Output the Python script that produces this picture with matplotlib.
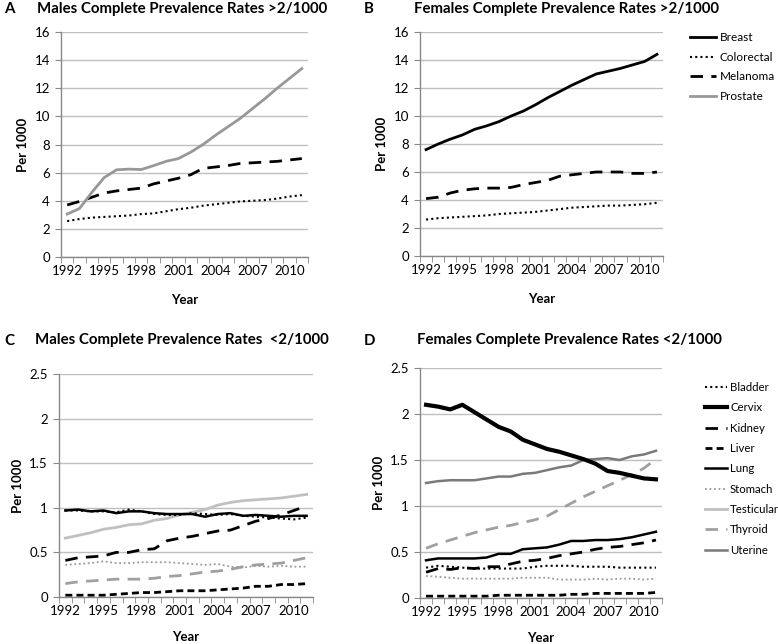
import matplotlib
matplotlib.use("Agg")
import matplotlib.pyplot as plt
from matplotlib.lines import Line2D
from matplotlib.ticker import MultipleLocator, FixedLocator, FuncFormatter

plt.rcParams['font.family'] = ['Lato', 'DejaVu Sans']

years = list(range(1992, 2012))
xtick_years = [1992, 1995, 1998, 2001, 2004, 2007, 2010]

# Panel A: males >2/1000
a_prostate = [3.05, 3.45, 4.6, 5.65, 6.2, 6.25, 6.22, 6.5, 6.8, 7.0, 7.45, 8.0, 8.65, 9.25, 9.85, 10.55, 11.25, 12.0, 12.7, 13.4]
a_melanoma = [3.7, 3.95, 4.25, 4.55, 4.7, 4.8, 4.9, 5.2, 5.4, 5.6, 5.85, 6.3, 6.4, 6.5, 6.65, 6.7, 6.75, 6.8, 6.9, 7.0]
a_colorectal = [2.55, 2.7, 2.8, 2.85, 2.9, 2.95, 3.05, 3.1, 3.25, 3.4, 3.5, 3.65, 3.75, 3.85, 3.95, 4.0, 4.05, 4.15, 4.3, 4.4]

# Panel B: females >2/1000
b_breast = [7.6, 8.0, 8.35, 8.65, 9.05, 9.3, 9.6, 10.0, 10.35, 10.8, 11.3, 11.75, 12.2, 12.6, 13.0, 13.2, 13.4, 13.65, 13.9, 14.4]
b_melanoma = [4.1, 4.2, 4.5, 4.7, 4.8, 4.85, 4.85, 4.9, 5.1, 5.25, 5.4, 5.7, 5.8, 5.9, 6.0, 6.0, 6.0, 5.9, 5.9, 6.0]
b_colorectal = [2.6, 2.7, 2.75, 2.8, 2.85, 2.9, 3.0, 3.05, 3.1, 3.15, 3.25, 3.35, 3.45, 3.5, 3.55, 3.6, 3.6, 3.65, 3.7, 3.8]

# Panel C: males <2/1000
c_lung = [0.97, 0.98, 0.96, 0.97, 0.94, 0.96, 0.96, 0.94, 0.93, 0.93, 0.93, 0.90, 0.93, 0.94, 0.91, 0.92, 0.91, 0.90, 0.91, 0.91]
c_bladder = [0.97, 0.97, 0.96, 0.96, 0.95, 0.98, 0.96, 0.93, 0.92, 0.92, 0.94, 0.93, 0.92, 0.93, 0.91, 0.90, 0.89, 0.88, 0.87, 0.89]
c_testicular = [0.66, 0.69, 0.72, 0.76, 0.78, 0.81, 0.82, 0.86, 0.88, 0.92, 0.95, 0.98, 1.03, 1.06, 1.08, 1.09, 1.10, 1.11, 1.13, 1.15]
c_kidney = [0.41, 0.44, 0.45, 0.46, 0.50, 0.50, 0.53, 0.54, 0.63, 0.66, 0.68, 0.71, 0.74, 0.75, 0.80, 0.85, 0.88, 0.92, 0.97, 1.02]
c_stomach = [0.36, 0.37, 0.38, 0.40, 0.38, 0.38, 0.39, 0.39, 0.39, 0.38, 0.37, 0.36, 0.37, 0.34, 0.33, 0.35, 0.34, 0.35, 0.34, 0.34]
c_thyroid = [0.15, 0.17, 0.18, 0.19, 0.20, 0.20, 0.20, 0.21, 0.23, 0.24, 0.26, 0.28, 0.29, 0.31, 0.34, 0.36, 0.37, 0.38, 0.41, 0.44]
c_liver = [0.02, 0.02, 0.02, 0.02, 0.03, 0.04, 0.05, 0.05, 0.06, 0.07, 0.07, 0.07, 0.08, 0.09, 0.10, 0.12, 0.12, 0.14, 0.14, 0.15]

# Panel D: females <2/1000
d_cervix = [2.1, 2.08, 2.05, 2.1, 2.02, 1.94, 1.86, 1.81, 1.72, 1.67, 1.62, 1.59, 1.55, 1.51, 1.46, 1.38, 1.36, 1.33, 1.30, 1.29]
d_uterine = [1.25, 1.27, 1.28, 1.28, 1.28, 1.30, 1.32, 1.32, 1.35, 1.36, 1.39, 1.42, 1.44, 1.50, 1.51, 1.52, 1.50, 1.54, 1.56, 1.60]
d_thyroid = [0.54, 0.59, 0.63, 0.67, 0.71, 0.74, 0.77, 0.79, 0.82, 0.85, 0.89, 0.96, 1.03, 1.10, 1.16, 1.22, 1.28, 1.34, 1.41, 1.51]
d_lung = [0.41, 0.43, 0.43, 0.43, 0.43, 0.44, 0.48, 0.48, 0.53, 0.54, 0.55, 0.58, 0.62, 0.62, 0.63, 0.63, 0.64, 0.66, 0.69, 0.72]
d_kidney = [0.28, 0.32, 0.31, 0.33, 0.32, 0.34, 0.34, 0.37, 0.40, 0.41, 0.43, 0.46, 0.48, 0.50, 0.53, 0.55, 0.56, 0.58, 0.60, 0.63]
d_bladder = [0.33, 0.35, 0.34, 0.33, 0.32, 0.32, 0.32, 0.32, 0.32, 0.34, 0.35, 0.35, 0.35, 0.34, 0.34, 0.34, 0.33, 0.33, 0.33, 0.33]
d_stomach = [0.24, 0.23, 0.22, 0.21, 0.21, 0.21, 0.21, 0.21, 0.22, 0.22, 0.22, 0.20, 0.20, 0.20, 0.21, 0.20, 0.21, 0.21, 0.20, 0.21]
d_liver = [0.02, 0.02, 0.02, 0.02, 0.02, 0.02, 0.03, 0.03, 0.03, 0.03, 0.03, 0.03, 0.04, 0.04, 0.05, 0.05, 0.05, 0.05, 0.05, 0.06]

# styles
S = {
    'Breast': dict(color='black', lw=2.0, ls='-'),
    'Colorectal': dict(color='black', lw=1.5, ls=(0, (1, 1.5))),
    'Melanoma': dict(color='black', lw=2.0, ls=(0, (4.5, 3))),
    'Prostate': dict(color='#989898', lw=2.0, ls='-'),
    'Bladder': dict(color='black', lw=1.5, ls=(0, (1, 1.5))),
    'Cervix': dict(color='black', lw=3.0, ls='-'),
    'Kidney': dict(color='black', lw=2.0, ls=(0, (4.5, 3))),
    'Liver': dict(color='black', lw=2.0, ls=(0, (2.5, 1.5))),
    'Lung': dict(color='black', lw=1.8, ls='-'),
    'Stomach': dict(color='#9a9a9a', lw=1.3, ls=(0, (1, 1.5))),
    'Testicular': dict(color='#c0c0c0', lw=2.0, ls='-'),
    'Thyroid': dict(color='#a0a0a0', lw=2.0, ls=(0, (4.5, 3))),
    'Uterine': dict(color='#7a7a7a', lw=1.8, ls='-'),
}

fig = plt.figure(figsize=(7.78, 6.44), dpi=100)
W, H = 778, 644

def mkax(l, r, t, b):
    return fig.add_axes([l / W, 1 - b / H, (r - l) / W, (b - t) / H])

def style(ax, ymax, ystep, xlabelpad):
    ax.set_xlim(1991.5, 2011.5)
    ax.set_ylim(0, ymax)
    ax.yaxis.set_major_locator(MultipleLocator(ystep))
    ax.yaxis.set_major_formatter(FuncFormatter(lambda v, p: '{:g}'.format(v)))
    ax.xaxis.set_major_locator(FixedLocator(xtick_years))
    ax.xaxis.set_minor_locator(FixedLocator([y - 0.5 for y in range(1992, 2013)]))
    ax.tick_params(axis='x', which='major', length=0, labelsize=9.5, pad=6)
    ax.tick_params(axis='x', which='minor', length=4, color='#888888', direction='out')
    ax.tick_params(axis='y', which='major', length=4, color='#888888', labelsize=9.5, pad=4)
    ax.grid(axis='y', color='#bfbfbf', lw=1.0)
    ax.set_axisbelow(True)
    for s in ['top', 'right']:
        ax.spines[s].set_visible(False)
    for s in ['left', 'bottom']:
        ax.spines[s].set_color('#888888')
        ax.spines[s].set_linewidth(1.0)
    ax.set_xlabel('Year', fontsize=9.5, fontweight='bold', labelpad=xlabelpad)
    ax.set_ylabel('Per 1000', fontsize=9.5, fontweight='bold', labelpad=4)

# Panel A
axA = mkax(61, 308, 32, 257)
style(axA, 16, 2, 12)
axA.plot(years, a_colorectal, **S['Colorectal'])
axA.plot(years, a_melanoma, **S['Melanoma'])
axA.plot(years, a_prostate, **S['Prostate'])

# Panel B
axB = mkax(420, 663, 32, 256)
style(axB, 16, 2, 12)
axB.plot(years, b_colorectal, **S['Colorectal'])
axB.plot(years, b_melanoma, **S['Melanoma'])
axB.plot(years, b_breast, **S['Breast'])
hB = [Line2D([], [], **S[k]) for k in ['Breast', 'Colorectal', 'Melanoma', 'Prostate']]
fig.legend(hB, ['Breast', 'Colorectal', 'Melanoma', 'Prostate'], loc='upper left',
           bbox_to_anchor=(690 / W, 1 - 32 / H), frameon=False, fontsize=8.5,
           handlelength=2.2, handletextpad=0.3, labelspacing=0.74,
           borderaxespad=0, borderpad=0)

# Panel C
axC = mkax(59, 313, 374, 597)
style(axC, 2.5, 0.5, 10)
axC.plot(years, c_liver, **S['Liver'])
axC.plot(years, c_thyroid, **S['Thyroid'])
axC.plot(years, c_stomach, **S['Stomach'])
axC.plot(years, c_kidney, **S['Kidney'])
axC.plot(years, c_testicular, **S['Testicular'])
axC.plot(years, c_bladder, **S['Bladder'])
axC.plot(years, c_lung, **S['Lung'])

# Panel D
axD = mkax(420, 662, 368, 598)
style(axD, 2.5, 0.5, 10)
axD.plot(years, d_liver, **S['Liver'])
axD.plot(years, d_stomach, **S['Stomach'])
axD.plot(years, d_bladder, **S['Bladder'])
axD.plot(years, d_kidney, **S['Kidney'])
axD.plot(years, d_lung, **S['Lung'])
axD.plot(years, d_thyroid, **S['Thyroid'])
axD.plot(years, d_uterine, **S['Uterine'])
axD.plot(years, d_cervix, **S['Cervix'])
namesD = ['Bladder', 'Cervix', 'Kidney', 'Liver', 'Lung', 'Stomach', 'Testicular', 'Thyroid', 'Uterine']
hD = [Line2D([], [], **S[k]) for k in namesD]
fig.legend(hD, namesD, loc='upper left',
           bbox_to_anchor=(705 / W, 1 - 382 / H), frameon=False, fontsize=8.2,
           handlelength=1.95, handletextpad=0.25, labelspacing=0.82,
           borderaxespad=0, borderpad=0)

# Titles and letters
tkw = dict(fontsize=10.8, fontweight='bold', va='center')
fig.text(182 / W, 1 - 9 / H, 'Males Complete Prevalence Rates >2/1000', ha='center', **tkw)
fig.text(567 / W, 1 - 9 / H, 'Females Complete Prevalence Rates >2/1000', ha='center', **tkw)
fig.text(182 / W, 1 - 340 / H, 'Males Complete Prevalence Rates  <2/1000', ha='center', **tkw)
fig.text(569 / W, 1 - 340 / H, 'Females Complete Prevalence Rates <2/1000', ha='center', **tkw)
fig.text(4 / W, 1 - 9 / H, 'A', ha='left', **tkw)
fig.text(364 / W, 1 - 9 / H, 'B', ha='left', **tkw)
fig.text(4 / W, 1 - 341 / H, 'C', ha='left', **tkw)
fig.text(364 / W, 1 - 341 / H, 'D', ha='left', **tkw)

fig.savefig('out.png', dpi=100)
